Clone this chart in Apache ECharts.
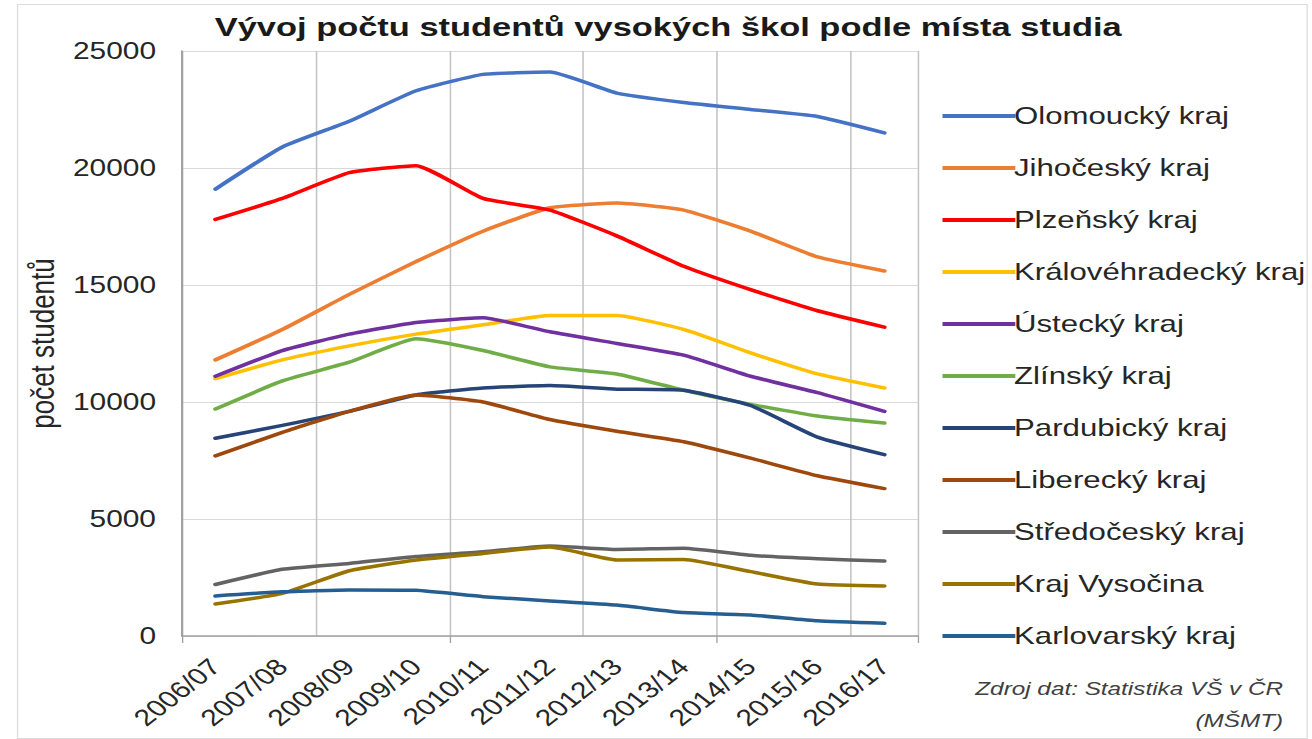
<!DOCTYPE html>
<html>
<head>
<meta charset="utf-8">
<title>Vývoj počtu studentů vysokých škol podle místa studia</title>
<script src="https://cdn.jsdelivr.net/npm/echarts@6/dist/echarts.min.js"></script>
<style>
  html, body { margin: 0; padding: 0; background: #fff; }
  .wrap { width: 1312px; height: 739px; overflow: hidden; position: relative; }
  /* the original picture is stretched sideways, so the chart is drawn narrower and scaled */
  .chart { width: 1009px; height: 739px; transform: scaleX(1.3); transform-origin: 0 0; }
</style>
</head>
<body>
<div class="wrap"><div id="chart" class="chart"></div></div>
<script>
var years = ['2006/07', '2007/08', '2008/09', '2009/10', '2010/11', '2011/12', '2012/13', '2013/14', '2014/15', '2015/16', '2016/17']

var olomoucky = [19100, 20900, 22000, 23300, 24000, 24100, 23200, 22800, 22500, 22200, 21500]
var jihocesky = [11800, 13100, 14600, 16000, 17300, 18300, 18500, 18200, 17300, 16200, 15600]
var plzensky = [17800, 18700, 19800, 20100, 18700, 18200, 17100, 15800, 14800, 13900, 13200]
var kralovehradecky = [11000, 11800, 12400, 12900, 13300, 13700, 13700, 13100, 12100, 11200, 10600]
var ustecky = [11100, 12200, 12900, 13400, 13600, 13000, 12500, 12000, 11100, 10400, 9600]
var zlinsky = [9700, 10900, 11700, 12700, 12200, 11500, 11200, 10500, 9900, 9400, 9100]
var pardubicky = [8450, 9000, 9600, 10300, 10600, 10700, 10550, 10500, 9850, 8500, 7750]
var liberecky = [7700, 8700, 9600, 10300, 10000, 9250, 8750, 8300, 7600, 6850, 6300]
var stredocesky = [2200, 2850, 3100, 3400, 3600, 3850, 3700, 3750, 3450, 3300, 3200]
var vysocina = [1370, 1820, 2790, 3250, 3530, 3800, 3250, 3270, 2750, 2220, 2140]
var karlovarsky = [1710, 1890, 1970, 1950, 1680, 1500, 1320, 1000, 900, 650, 540]

var names = ['Olomoucký kraj', 'Jihočeský kraj', 'Plzeňský kraj', 'Královéhradecký kraj', 'Ústecký kraj',
  'Zlínský kraj', 'Pardubický kraj', 'Liberecký kraj', 'Středočeský kraj', 'Kraj Vysočina', 'Karlovarský kraj']
var values = [olomoucky, jihocesky, plzensky, kralovehradecky, ustecky, zlinsky, pardubicky, liberecky, stredocesky, vysocina, karlovarsky]
var colors = ['#4472c4', '#ed7d31', '#ff0000', '#ffc000', '#7030a0', '#70ad47', '#264478', '#9e480e', '#636363', '#997300', '#255e91']

var font = 'Liberation Sans, Arial, sans-serif'

function draw() {
  var myChart = echarts.init(document.getElementById('chart'), null, { renderer: 'svg' })
  var series = []
  for (var i = 0; i < names.length; i++) {
    series.push({
      name: names[i],
      type: 'line',
      data: values[i],
      showSymbol: false,
      smooth: 0.15,
      lineStyle: { width: 3.5, color: colors[i], cap: 'round', join: 'round' },
      itemStyle: { color: colors[i] }
    })
  }
  var option = {
    animation: false,
    backgroundColor: '#fff',
    title: {
      text: 'Vývoj počtu studentů vysokých škol podle místa studia',
      left: 509,
      textAlign: 'center',
      top: 8,
      textStyle: { fontFamily: font, fontSize: 26.5, fontWeight: 'bold', color: '#1a1a1a' }
    },
    legend: {
      orient: 'vertical',
      left: 720,
      top: 99,
      itemGap: 28,
      itemWidth: 56,
      itemHeight: 4,
      icon: 'rect',
      textStyle: { fontFamily: font, fontSize: 24, color: '#262626', padding: [0, 0, 0, -6] },
      data: names
    },
    grid: { left: 140, top: 51, width: 566, height: 585, containLabel: false },
    xAxis: {
      type: 'category',
      data: years,
      boundaryGap: true,
      axisLine: { lineStyle: { color: '#a0a0a0', width: 1.5 } },
      axisTick: { show: true, length: 7, interval: function (i) { return i % 4 === 0 }, lineStyle: { color: '#a0a0a0' } },
      axisLabel: { rotate: 45, margin: 27, interval: 0, fontFamily: font, fontSize: 23, color: '#262626' },
      splitLine: { show: true, interval: function (i) { return i % 2 === 0 }, lineStyle: { color: '#c4c4c4', width: 1.2 } }
    },
    yAxis: {
      type: 'value',
      min: 0,
      max: 25000,
      interval: 5000,
      name: 'počet studentů',
      nameLocation: 'middle',
      nameGap: 83,
      nameTextStyle: { fontFamily: font, fontSize: 26, color: '#262626' },
      axisLine: { show: true, lineStyle: { color: '#a0a0a0', width: 1.5 } },
      axisTick: { show: false },
      axisLabel: { margin: 20, fontFamily: font, fontSize: 23, color: '#262626', formatter: function (v) { return String(v) } },
      splitLine: { lineStyle: { color: '#d9d9d9', width: 1.2 } }
    },
    graphic: [
      { type: 'rect', left: 11, top: 2, shape: { width: 992, height: 734 }, style: { fill: 'none', stroke: '#dcdcdc', lineWidth: 1 }, silent: true },
      { type: 'text', right: 22, top: 679, style: { text: 'Zdroj dat: Statistika VŠ v ČR', fontFamily: font, fontStyle: 'italic', fontSize: 18.7, fill: '#404040', align: 'right' } },
      { type: 'text', right: 22, top: 711, style: { text: '(MŠMT)', fontFamily: font, fontStyle: 'italic', fontSize: 18.7, fill: '#404040', align: 'right' } }
    ],
    series: series
  }
  myChart.setOption(option)
}

draw()
</script>
</body>
</html>
